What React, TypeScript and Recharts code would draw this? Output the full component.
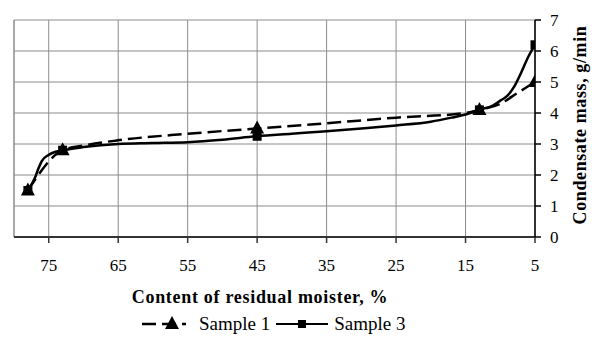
import { LineChart, Line, XAxis, YAxis, CartesianGrid, ReferenceLine } from "recharts";

const xTicks = [75, 65, 55, 45, 35, 25, 15, 5];
const yTicks = [0, 1, 2, 3, 4, 5, 6, 7];

const sample1X = [78, 73, 70, 65, 55, 45, 35, 25, 15, 13, 10, 7.5, 5];
const sample1Y = [1.5, 2.8, 2.95, 3.12, 3.33, 3.5, 3.67, 3.85, 4.0, 4.1, 4.3, 4.65, 5.0];
const sample1Markers = [78, 73, 45, 13, 5];

const sample3X = [78, 77, 76.5, 76, 75, 74, 73, 70, 65, 60, 55, 50, 45, 40, 35, 30, 25, 20, 17, 15, 13, 11, 10, 9, 8, 7, 6, 5];
const sample3Y = [1.5, 1.9, 2.2, 2.45, 2.65, 2.75, 2.8, 2.9, 3.0, 3.03, 3.06, 3.14, 3.25, 3.33, 3.41, 3.5, 3.6, 3.72, 3.85, 3.95, 4.1, 4.25, 4.4, 4.55, 4.85, 5.3, 5.8, 6.2];
const sample3Markers = [78, 73, 45, 13, 5];

const sample1 = sample1X.map((x, i) => ({ x, y: sample1Y[i] }));
const sample3 = sample3X.map((x, i) => ({ x, y: sample3Y[i] }));

const FONT = "Liberation Serif, Times New Roman, DejaVu Serif, serif";

const triangleDot = (marks: number[]) => (props: any) => {
  const { cx, cy, payload, index } = props;
  if (!marks.includes(payload.x)) return <g key={index} />;
  return <path key={index} d={`M${cx},${cy - 8} L${cx + 7},${cy + 5} L${cx - 7},${cy + 5} Z`} fill="#000" />;
};

const squareDot = (marks: number[]) => (props: any) => {
  const { cx, cy, payload, index } = props;
  if (!marks.includes(payload.x)) return <g key={index} />;
  return <rect key={index} x={cx - 4.5} y={cy - 4.5} width={9} height={9} fill="#000" />;
};

const XLabel = () => (
  <text
    x={260}
    y={303}
    textAnchor="middle"
    style={{ fontFamily: FONT, letterSpacing: 0.7 }}
    fontSize={18}
    fontWeight="bold"
    fill="#000"
  >
    Content of residual moister, %
  </text>
);

const YLabel = () => (
  <text
    x={586}
    y={125}
    textAnchor="middle"
    transform="rotate(-90 586 125)"
    style={{ fontFamily: FONT, letterSpacing: 0.6 }}
    fontSize={18}
    fontWeight="bold"
    fill="#000"
  >
    Condensate mass, g/min
  </text>
);

export default function App() {
  return (
    <div style={{ position: "absolute", left: 0, top: 0, width: 592, height: 340, background: "#fff", fontFamily: FONT }}>
      <LineChart width={592} height={340} margin={{ top: 20, right: 0, left: 14, bottom: 0 }} style={{ fontFamily: FONT }}>
        <CartesianGrid stroke="#8c8c8c" strokeWidth={1} />
        <ReferenceLine x={80} stroke="#8c8c8c" strokeWidth={1} />
        <XAxis
          type="number"
          dataKey="x"
          domain={[5, 80]}
          reversed
          ticks={xTicks}
          allowDataOverflow
          height={103}
          tickSize={6}
          tickMargin={16}
          axisLine={{ stroke: "#333", strokeWidth: 2 }}
          tickLine={{ stroke: "#333", strokeWidth: 1.5 }}
          tick={{ fill: "#000", fontSize: 17, fontFamily: FONT }}
          label={<XLabel />}
        />
        <YAxis
          orientation="right"
          type="number"
          domain={[0, 7]}
          ticks={yTicks}
          width={57}
          tickSize={6}
          tickMargin={9}
          axisLine={{ stroke: "#000", strokeWidth: 1.5 }}
          tickLine={{ stroke: "#000", strokeWidth: 1.5 }}
          tick={{ fill: "#000", fontSize: 17, fontFamily: FONT, textAnchor: "start" }}
          label={<YLabel />}
        />
        <Line
          data={sample1}
          dataKey="y"
          type="monotone"
          stroke="#000"
          strokeWidth={2.5}
          strokeDasharray="14 6"
          dot={triangleDot(sample1Markers)}
          activeDot={false}
          isAnimationActive={false}
        />
        <Line
          data={sample3}
          dataKey="y"
          type="monotone"
          stroke="#000"
          strokeWidth={2.5}
          dot={squareDot(sample3Markers)}
          activeDot={false}
          isAnimationActive={false}
        />
      </LineChart>
      <div
        style={{
          position: "absolute",
          left: 140,
          top: 313,
          display: "flex",
          alignItems: "center",
          fontFamily: FONT,
          fontSize: 19,
          color: "#000",
          whiteSpace: "nowrap",
        }}
      >
        <svg width={48} height={20}>
          <line x1={2} y1={10} x2={46} y2={10} stroke="#000" strokeWidth={2.5} strokeDasharray="14 6" />
          <path d="M32,2 L39,15 L25,15 Z" fill="#000" />
        </svg>
        <span style={{ marginLeft: 11, marginRight: 4 }}>Sample 1</span>
        <svg width={56} height={20}>
          <line x1={2} y1={10} x2={54} y2={10} stroke="#000" strokeWidth={2} />
          <rect x={24} y={6} width={8} height={8} fill="#000" />
        </svg>
        <span style={{ marginLeft: 4 }}>Sample 3</span>
      </div>
    </div>
  );
}
